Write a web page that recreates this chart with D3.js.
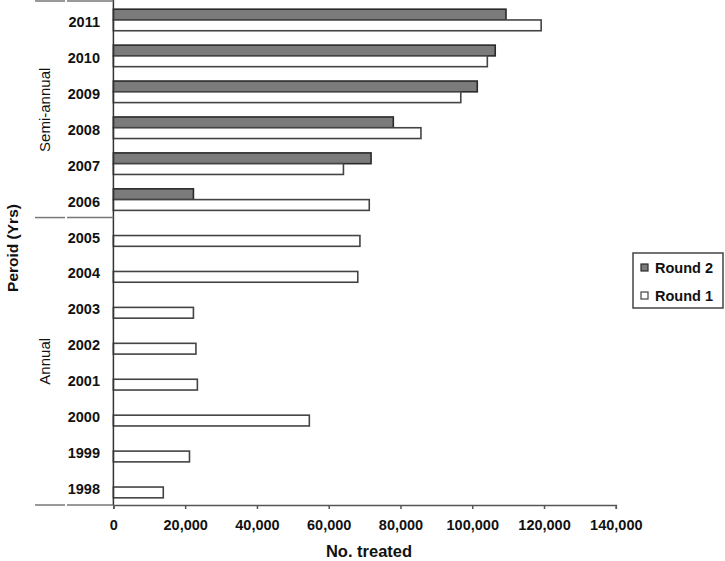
<!DOCTYPE html>
<html>
<head>
<meta charset="utf-8">
<script src="https://cdn.jsdelivr.net/npm/d3@7"></script>
<style>
  html, body { margin: 0; padding: 0; background: #fff; }
  svg { display: block; font-family: "Liberation Sans", Arial, sans-serif; }
</style>
</head>
<body>
<svg id="chart" width="725" height="561"></svg>
<script>
// ---- data ----
const years = ["1998","1999","2000","2001","2002","2003","2004","2005","2006","2007","2008","2009","2010","2011"];
const round1 = [13900, 21200, 54600, 23400, 23000, 22300, 68100, 68700, 71300, 64100, 85700, 96800, 104200, 119200];
const round2 = [null, null, null, null, null, null, null, null, 22300, 71800, 78000, 101400, 106400, 109400];
const seriesNames = ["Round 2", "Round 1"];
const groups = [
  { name: "Semi-annual", from: "2011", to: "2006" },
  { name: "Annual", from: "2005", to: "1998" }
];
const xTicks = [0, 20000, 40000, 60000, 80000, 100000, 120000, 140000];
const xTitle = "No. treated";
const yTitle = "Peroid (Yrs)";

// ---- layout ----
const svg = d3.select("#chart");
const plot = { left: 113.4, right: 615.8, top: 2, bottom: 505 };

const x = d3.scaleLinear().domain([0, 140000]).range([plot.left, plot.right]);
const y = d3.scaleBand().domain(years.slice().reverse())
  .range([plot.top, plot.bottom]).paddingInner(0.4).paddingOuter(0.2);
const ySub = d3.scaleBand().domain(seriesNames).range([0, y.bandwidth()]);

const rows = years.map((yr, i) => ({ year: yr, "Round 1": round1[i], "Round 2": round2[i] }));

const styles = {
  "Round 2": { fill: "#7b7b7b", stroke: "#2a2a2a" },
  "Round 1": { fill: "#ffffff", stroke: "#444444" }
};

// bars
const g = svg.append("g");
rows.forEach(r => {
  seriesNames.forEach(s => {
    if (r[s] == null) return;
    g.append("rect")
      .attr("x", x(0))
      .attr("y", y(r.year) + ySub(s))
      .attr("width", x(r[s]) - x(0))
      .attr("height", ySub.bandwidth())
      .attr("fill", styles[s].fill)
      .attr("stroke", styles[s].stroke)
      .attr("stroke-width", 1.6);
  });
});

// x axis
const xAxis = d3.axisBottom(x).tickValues(xTicks).tickFormat(d3.format(",")).tickSize(4).tickSizeOuter(4);
const xg = svg.append("g").attr("transform", `translate(0,${plot.bottom})`).call(xAxis);
xg.select(".domain").attr("stroke", "#555").attr("stroke-width", 1.5);
xg.selectAll(".tick line").attr("stroke", "#555").attr("stroke-width", 1.5);
xg.selectAll(".tick text")
  .attr("y", 0).attr("dy", null)
  .attr("transform", "translate(0,25)")
  .attr("fill", "#111")
  .style("font-size", "14.5px").style("font-weight", "bold")
  .style("font-family", "'Liberation Sans', Arial, sans-serif");

// y axis line
svg.append("line")
  .attr("x1", plot.left).attr("x2", plot.left)
  .attr("y1", 0).attr("y2", plot.bottom)
  .attr("stroke", "#333").attr("stroke-width", 1.5);

// year labels
svg.append("g").selectAll("text").data(years).join("text")
  .attr("x", 100)
  .attr("y", d => y(d) + y.bandwidth() / 2 + 7)
  .attr("text-anchor", "end")
  .attr("fill", "#111")
  .style("font-size", "14.5px").style("font-weight", "bold")
  .text(d => d);

// group separators and labels
const boundaries = [plot.top - 1, y(groups[1].from) - y.step() * y.paddingInner() / 2, plot.bottom];
boundaries.forEach(b => {
  svg.append("line").attr("x1", 35).attr("x2", 65).attr("y1", b).attr("y2", b)
    .attr("stroke", "#777").attr("stroke-width", 1.5);
  svg.append("line").attr("x1", 67).attr("x2", plot.left).attr("y1", b).attr("y2", b)
    .attr("stroke", "#777").attr("stroke-width", 1.5);
});
groups.forEach(gr => {
  const y0 = y(gr.from) - y.step() * y.paddingInner() / 2;
  const y1 = y(gr.to) + y.bandwidth() + y.step() * y.paddingInner() / 2;
  const top = Math.max(y0, plot.top), bot = Math.min(y1, plot.bottom);
  const cy = (top + bot) / 2;
  svg.append("text")
    .attr("transform", `translate(50,${cy}) rotate(-90)`)
    .attr("text-anchor", "middle")
    .attr("fill", "#111")
    .style("font-size", "15px")
    .text(gr.name);
});

// axis titles
svg.append("text")
  .attr("x", 369).attr("y", 557)
  .attr("text-anchor", "middle")
  .attr("fill", "#111")
  .style("font-size", "16.5px").style("font-weight", "bold")
  .text(xTitle);

svg.append("text")
  .attr("transform", `translate(18,248) rotate(-90)`)
  .attr("text-anchor", "middle")
  .attr("fill", "#111")
  .style("font-size", "15.5px").style("font-weight", "bold")
  .text(yTitle);

// legend
const lg = svg.append("g");
lg.append("rect").attr("x", 633).attr("y", 253).attr("width", 90).attr("height", 55)
  .attr("fill", "#fff").attr("stroke", "#444").attr("stroke-width", 1.5);
seriesNames.forEach((s, i) => {
  const cy = 268 + i * 28;
  lg.append("rect").attr("x", 641).attr("y", cy - 4).attr("width", 7).attr("height", 7)
    .attr("fill", styles[s].fill).attr("stroke", styles[s].stroke).attr("stroke-width", 1.2);
  lg.append("text").attr("x", 655).attr("y", cy + 5)
    .attr("fill", "#111")
    .style("font-size", "14.5px").style("font-weight", "bold")
    .text(s);
});
</script>
</body>
</html>
